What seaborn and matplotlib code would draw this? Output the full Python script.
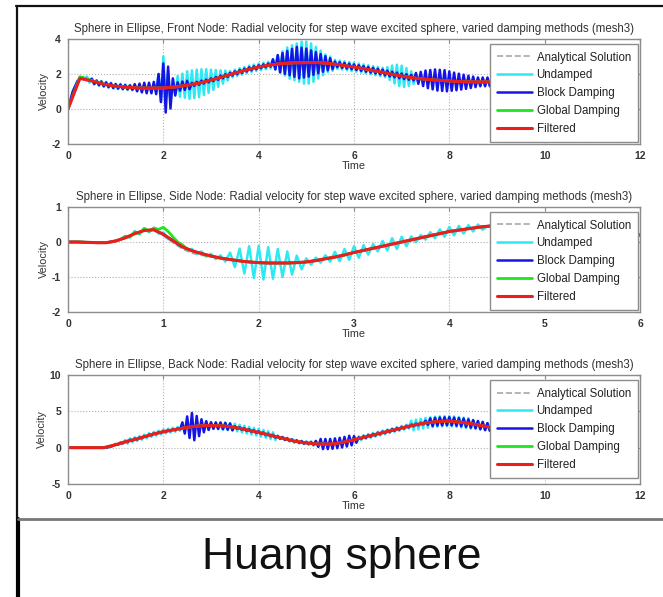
import numpy as np
import matplotlib
matplotlib.use("Agg")
import matplotlib.pyplot as plt
from matplotlib.lines import Line2D
import seaborn as sns

# ---- data ----
labels = ["Analytical Solution", "Undamped", "Block Damping", "Global Damping", "Filtered"]
colors = ["#a8a8a8", "#2ee8f2", "#1414e6", "#1ee61e", "#ee1c1c"]

titles = [
    "Sphere in Ellipse, Front Node: Radial velocity for step wave excited sphere, varied damping methods (mesh3)",
    "Sphere in Ellipse, Side Node: Radial velocity for step wave excited sphere, varied damping methods (mesh3)",
    "Sphere in Ellipse, Back Node: Radial velocity for step wave excited sphere, varied damping methods (mesh3)",
]

# front node: smooth curves every 0.25 s
front_analytical = [0.0, 1.7, 1.58, 1.42, 1.31, 1.24, 1.21, 1.2, 1.21, 1.26, 1.36, 1.49, 1.65, 1.85, 2.05, 2.24,
                    2.4, 2.52, 2.6, 2.64, 2.65, 2.64, 2.6, 2.5, 2.4, 2.28, 2.15, 2.02, 1.89, 1.78, 1.7, 1.65,
                    1.6, 1.57, 1.55, 1.55, 1.55]
front_global = [0.0, 1.85, 1.62, 1.43, 1.3, 1.24, 1.2, 1.2, 1.2, 1.26, 1.36, 1.48, 1.65, 1.85, 2.05, 2.24,
                2.4, 2.52, 2.6, 2.64, 2.65, 2.65, 2.6, 2.5, 2.4, 2.28, 2.15, 2.01, 1.88, 1.78, 1.7, 1.65,
                1.6, 1.56, 1.55, 1.55, 1.55]
front_filtered = [0.0, 1.75, 1.6, 1.42, 1.3, 1.24, 1.2, 1.2, 1.2, 1.26, 1.36, 1.48, 1.65, 1.85, 2.05, 2.24,
                  2.4, 2.52, 2.6, 2.64, 2.65, 2.65, 2.6, 2.5, 2.4, 2.28, 2.15, 2.01, 1.88, 1.78, 1.7, 1.65,
                  1.6, 1.56, 1.55, 1.55, 1.55]
# front node: oscillating curves, peaks (hi) and troughs (lo) every 0.1 s
front_undamped_hi = [0.0, 1.0, 1.6, 1.8, 1.85, 1.75, 1.65, 1.6, 1.55, 1.5,
                     1.45, 1.43, 1.4, 1.38, 1.37, 1.35, 1.4, 1.4, 1.4, 2.0,
                     3.0, 2.2, 1.65, 1.88, 2.02, 2.16, 2.2, 2.25, 2.27, 2.28,
                     2.25, 2.23, 2.21, 2.19, 2.17, 2.25, 2.33, 2.4, 2.48, 2.54,
                     2.6, 2.65, 2.7, 2.84, 3.08, 3.3, 3.52, 3.64, 3.75, 3.85,
                     3.85, 3.75, 3.55, 3.34, 3.12, 3.0, 2.81, 2.77, 2.73, 2.69,
                     2.65, 2.6, 2.55, 2.5, 2.45, 2.4, 2.35, 2.39, 2.48, 2.53,
                     2.48, 2.34, 2.15, 1.96, 1.92, 1.9, 1.88, 1.86, 1.84, 1.82,
                     1.8, 1.78, 1.77, 1.76, 1.75, 1.75, 1.75, 1.75, 1.75, 1.75, 1.75]
front_undamped_lo = [0.5, 1.3, 1.75, 1.75, 1.5, 1.4, 1.33, 1.27, 1.22, 1.17,
                     1.14, 1.11, 1.09, 1.07, 1.06, 1.05, 1.0, 1.0, 1.0, 0.4,
                     0.5, 0.4, 0.85, 0.7, 0.64, 0.58, 0.62, 0.68, 0.8, 0.92,
                     1.09, 1.27, 1.45, 1.63, 1.81, 1.89, 1.96, 2.04, 2.11, 2.17,
                     2.22, 2.27, 2.32, 2.26, 2.09, 1.91, 1.73, 1.64, 1.55, 1.45,
                     1.45, 1.55, 1.74, 1.93, 2.11, 2.18, 2.29, 2.25, 2.21, 2.17,
                     2.13, 2.08, 2.03, 1.98, 1.93, 1.88, 1.82, 1.66, 1.46, 1.31,
                     1.26, 1.32, 1.43, 1.54, 1.51, 1.49, 1.47, 1.45, 1.43, 1.41,
                     1.39, 1.37, 1.36, 1.35, 1.35, 1.35, 1.35, 1.35, 1.35, 1.35, 1.35]
front_block_hi = [0.0, 1.0, 1.6, 1.8, 1.7, 1.72, 1.62, 1.57, 1.52, 1.47,
                  1.42, 1.4, 1.37, 1.35, 1.42, 1.45, 1.5, 1.5, 1.55, 2.0,
                  2.6, 2.42, 1.75, 1.53, 1.57, 1.61, 1.5, 1.55, 1.62, 1.68,
                  1.75, 1.83, 1.91, 1.99, 2.07, 2.15, 2.23, 2.3, 2.38, 2.44,
                  2.5, 2.55, 2.6, 2.84, 3.08, 3.2, 3.32, 3.44, 3.55, 3.5,
                  3.45, 3.35, 3.25, 3.14, 3.02, 2.9, 2.71, 2.67, 2.63, 2.59,
                  2.55, 2.5, 2.45, 2.4, 2.35, 2.3, 2.25, 2.19, 2.13, 2.08,
                  2.03, 1.99, 1.95, 2.06, 2.12, 2.2, 2.23, 2.26, 2.24, 2.22,
                  2.15, 2.08, 2.02, 1.96, 1.9, 1.85, 1.8, 1.8, 1.8, 1.8, 1.8]
front_block_lo = [0.5, 1.3, 1.75, 1.75, 1.65, 1.43, 1.36, 1.3, 1.25, 1.2,
                  1.17, 1.14, 1.12, 1.1, 1.01, 0.95, 0.9, 0.9, 0.85, 0.4,
                  -0.2, 0.03, 0.77, 1.05, 1.09, 1.13, 1.32, 1.38, 1.45, 1.52,
                  1.59, 1.67, 1.75, 1.83, 1.91, 1.99, 2.06, 2.14, 2.21, 2.27,
                  2.33, 2.38, 2.42, 2.26, 2.09, 2.01, 1.93, 1.84, 1.75, 1.8,
                  1.85, 1.95, 2.04, 2.13, 2.21, 2.28, 2.39, 2.35, 2.31, 2.27,
                  2.23, 2.18, 2.13, 2.08, 2.03, 1.98, 1.92, 1.86, 1.81, 1.76,
                  1.71, 1.67, 1.63, 1.44, 1.31, 1.19, 1.12, 1.05, 1.03, 1.01,
                  1.04, 1.07, 1.11, 1.15, 1.2, 1.25, 1.3, 1.3, 1.3, 1.3, 1.3]

# side node: smooth curves every 0.1 s
side_analytical = [0.0, 0.0, -0.01, -0.02, -0.02, 0.03, 0.12, 0.24, 0.32, 0.34,
                   0.18, -0.02, -0.2, -0.32, -0.38, -0.42, -0.46, -0.5, -0.54, -0.57,
                   -0.59, -0.6, -0.6, -0.6, -0.59, -0.57, -0.53, -0.48, -0.43, -0.37,
                   -0.3, -0.24, -0.18, -0.12, -0.06, 0.0, 0.06, 0.12, 0.18, 0.24,
                   0.3, 0.34, 0.38, 0.42, 0.45, 0.47, 0.49, 0.5, 0.5, 0.5,
                   0.49, 0.47, 0.45, 0.42, 0.39, 0.36, 0.33, 0.3, 0.26, 0.23, 0.2]
side_block = [0.0, 0.0, -0.01, -0.02, -0.02, 0.03, 0.12, 0.24, 0.33, 0.35,
              0.22, 0.04, -0.14, -0.25, -0.33, -0.4, -0.46, -0.5, -0.54, -0.57,
              -0.59, -0.6, -0.6, -0.6, -0.59, -0.57, -0.53, -0.48, -0.43, -0.37,
              -0.3, -0.24, -0.18, -0.12, -0.06, 0.0, 0.06, 0.12, 0.18, 0.24,
              0.3, 0.34, 0.38, 0.42, 0.45, 0.47, 0.49, 0.5, 0.5, 0.5,
              0.49, 0.47, 0.45, 0.42, 0.39, 0.36, 0.33, 0.3, 0.26, 0.23, 0.2]
side_filtered = [0.0, 0.0, -0.01, -0.02, -0.02, 0.03, 0.12, 0.24, 0.33, 0.35,
                 0.22, 0.04, -0.14, -0.25, -0.33, -0.4, -0.46, -0.5, -0.54, -0.57,
                 -0.59, -0.6, -0.6, -0.6, -0.59, -0.57, -0.53, -0.48, -0.43, -0.37,
                 -0.3, -0.24, -0.18, -0.12, -0.06, 0.0, 0.06, 0.12, 0.18, 0.24,
                 0.3, 0.34, 0.38, 0.42, 0.45, 0.47, 0.49, 0.5, 0.5, 0.5,
                 0.49, 0.47, 0.45, 0.42, 0.39, 0.36, 0.33, 0.3, 0.26, 0.23, 0.2]
# side node: oscillating curves, hi/lo every 0.1 s
side_undamped_hi = [0.0, 0.0, -0.01, -0.02, -0.02, 0.03, 0.17, 0.31, 0.39, 0.4,
                    0.27, 0.09, -0.1, -0.2, -0.27, -0.34, -0.38, -0.3, -0.19, -0.12,
                    -0.11, -0.15, -0.2, -0.27, -0.39, -0.47, -0.45, -0.38, -0.28, -0.2,
                    -0.12, -0.09, -0.06, 0.03, 0.11, 0.15, 0.16, 0.2, 0.28, 0.36,
                    0.43, 0.46, 0.48, 0.5, 0.45, 0.47, 0.49, 0.5, 0.5, 0.5,
                    0.49, 0.47, 0.45, 0.42, 0.39, 0.36, 0.33, 0.3, 0.26, 0.23, 0.2]
side_undamped_lo = [0.0, 0.0, -0.01, -0.02, 0.0, 0.07, 0.13, 0.22, 0.28, 0.24,
                    0.08, -0.1, -0.24, -0.34, -0.42, -0.49, -0.56, -0.72, -0.9, -1.03,
                    -1.07, -1.05, -1.0, -0.93, -0.78, -0.65, -0.59, -0.56, -0.55, -0.51,
                    -0.45, -0.36, -0.27, -0.24, -0.2, -0.12, -0.01, 0.07, 0.11, 0.15,
                    0.19, 0.24, 0.3, 0.35, 0.46, 0.48, 0.5, 0.5, 0.5, 0.5,
                    0.48, 0.46, 0.44, 0.41, 0.38, 0.35, 0.32, 0.28, 0.25, 0.22, 0.2]
side_global_hi = [0.0, 0.0, -0.01, -0.02, -0.02, 0.03, 0.16, 0.29, 0.39, 0.4,
                  0.42, 0.15, -0.08, -0.25, -0.33, -0.4, -0.46, -0.5, -0.54, -0.57,
                  -0.59, -0.6, -0.6, -0.6, -0.59, -0.57, -0.53, -0.48, -0.43, -0.37,
                  -0.3, -0.24, -0.18, -0.12, -0.06, 0.0, 0.06, 0.12, 0.18, 0.24,
                  0.3, 0.34, 0.38, 0.42, 0.45, 0.47, 0.49, 0.5, 0.5, 0.5,
                  0.49, 0.47, 0.45, 0.42, 0.39, 0.36, 0.33, 0.3, 0.26, 0.23, 0.2]
side_global_lo = [0.0, 0.0, -0.01, -0.02, 0.0, 0.07, 0.14, 0.24, 0.3, 0.36,
                  0.3, 0.0, -0.2, -0.3, -0.38, -0.43, -0.48, -0.52, -0.56, -0.58,
                  -0.6, -0.6, -0.6, -0.6, -0.58, -0.55, -0.5, -0.45, -0.4, -0.33,
                  -0.27, -0.21, -0.15, -0.09, -0.03, 0.03, 0.09, 0.15, 0.21, 0.27,
                  0.32, 0.36, 0.4, 0.43, 0.46, 0.48, 0.5, 0.5, 0.5, 0.49,
                  0.48, 0.46, 0.43, 0.4, 0.37, 0.34, 0.31, 0.28, 0.24, 0.21, 0.2]

# back node: smooth curves every 0.25 s
back_analytical = [0.0, 0.0, 0.0, 0.0, 0.4, 0.9, 1.3, 1.8, 2.2, 2.5, 2.8, 3.0, 3.05, 3.0, 2.8, 2.45,
                   2.1, 1.7, 1.3, 0.9, 0.65, 0.5, 0.5, 0.7, 1.1, 1.5, 1.9, 2.3, 2.7, 3.1, 3.4, 3.6,
                   3.65, 3.5, 3.25, 2.95, 2.6]
back_global = [0.0, 0.0, 0.0, 0.0, 0.4, 0.9, 1.3, 1.8, 2.2, 2.5, 2.8, 3.0, 3.05, 3.0, 2.8, 2.45,
               2.1, 1.7, 1.3, 0.9, 0.65, 0.5, 0.5, 0.7, 1.1, 1.5, 1.9, 2.3, 2.7, 3.1, 3.4, 3.6,
               3.65, 3.5, 3.25, 2.95, 2.6]
back_filtered = [0.0, 0.0, 0.0, 0.0, 0.4, 0.9, 1.3, 1.8, 2.2, 2.5, 2.8, 3.0, 3.05, 3.0, 2.8, 2.45,
                 2.1, 1.7, 1.3, 0.9, 0.65, 0.5, 0.5, 0.7, 1.1, 1.5, 1.9, 2.3, 2.7, 3.1, 3.4, 3.6,
                 3.65, 3.5, 3.25, 2.95, 2.6]
# back node: oscillating curves, hi/lo every 0.1 s
back_undamped_hi = [0.0, 0.0, 0.0, 0.0, 0.0, 0.0, 0.0, 0.0, 0.0, 0.15,
                    0.4, 0.6, 1.05, 1.28, 1.44, 1.6, 1.8, 2.0, 2.18, 2.34,
                    2.5, 2.62, 2.74, 2.86, 3.08, 3.4, 3.48, 3.56, 3.61, 3.63,
                    3.45, 3.43, 3.51, 3.46, 3.38, 3.3, 3.16, 3.02, 2.88, 2.74,
                    2.6, 2.44, 2.28, 2.12, 1.66, 1.5, 1.34, 1.18, 1.05, 0.95,
                    0.85, 0.89, 0.83, 0.8, 0.8, 0.8, 0.88, 0.96, 1.08, 1.24,
                    1.4, 1.56, 1.72, 1.88, 2.04, 2.2, 2.36, 2.52, 2.68, 2.84,
                    3.0, 3.16, 3.72, 3.86, 3.98, 4.1, 4.18, 4.26, 4.31, 4.33,
                    4.35, 4.29, 4.23, 4.15, 4.05, 3.75, 3.63, 3.51, 3.38, 3.24, 3.1]
back_undamped_lo = [0.0, 0.0, 0.0, 0.0, 0.0, 0.0, 0.0, 0.0, 0.07, 0.28,
                    0.5, 0.68, 0.56, 0.76, 0.92, 1.1, 1.3, 1.49, 1.66, 1.82,
                    1.96, 2.08, 2.2, 2.32, 2.34, 2.24, 2.32, 2.39, 2.42, 2.44,
                    2.64, 2.62, 2.48, 2.42, 2.34, 2.23, 2.09, 1.95, 1.81, 1.67,
                    1.52, 1.36, 1.2, 1.04, 1.18, 1.02, 0.86, 0.72, 0.6, 0.5,
                    0.42, 0.26, 0.22, 0.2, 0.2, 0.24, 0.32, 0.42, 0.56, 0.72,
                    0.88, 1.04, 1.2, 1.36, 1.52, 1.68, 1.84, 2.0, 2.16, 2.32,
                    2.48, 2.64, 2.39, 2.52, 2.64, 2.74, 2.82, 2.88, 2.92, 2.94,
                    2.92, 2.86, 2.78, 2.7, 2.6, 2.69, 2.57, 2.44, 2.31, 2.17, 2.1]
back_block_hi = [0.0, 0.0, 0.0, 0.0, 0.0, 0.0, 0.0, 0.0, 0.0, 0.15,
                 0.5, 0.7, 0.85, 1.08, 1.24, 1.4, 1.6, 1.8, 1.98, 2.14,
                 2.3, 2.42, 2.54, 2.66, 3.48, 4.3, 4.78, 4.36, 3.91, 3.63,
                 3.5, 3.48, 3.46, 3.41, 3.33, 2.95, 2.81, 2.67, 2.53, 2.39,
                 2.25, 2.09, 1.93, 1.77, 1.61, 1.45, 1.29, 1.13, 1.0, 0.9,
                 0.8, 0.74, 0.93, 1.2, 1.2, 1.2, 1.28, 1.36, 1.48, 1.64,
                 1.6, 1.41, 1.57, 1.73, 1.89, 2.05, 2.21, 2.37, 2.53, 2.69,
                 2.85, 3.01, 3.17, 3.31, 3.43, 3.7, 4.03, 4.11, 4.16, 4.18,
                 4.2, 4.14, 4.08, 4.0, 3.9, 3.8, 3.68, 3.56, 3.38, 3.24, 3.1]
back_block_lo = [0.0, 0.0, 0.0, 0.0, 0.0, 0.0, 0.0, 0.0, 0.07, 0.28,
                 0.4, 0.58, 0.76, 0.96, 1.12, 1.3, 1.5, 1.69, 1.86, 2.02,
                 2.16, 2.28, 2.4, 2.52, 1.94, 1.34, 1.02, 1.59, 2.12, 2.44,
                 2.59, 2.57, 2.54, 2.47, 2.39, 2.58, 2.44, 2.3, 2.16, 2.02,
                 1.87, 1.71, 1.55, 1.39, 1.23, 1.07, 0.91, 0.76, 0.65, 0.55,
                 0.47, 0.41, 0.11, -0.2, -0.2, -0.16, -0.08, 0.02, 0.16, 0.32,
                 0.68, 1.19, 1.35, 1.51, 1.67, 1.83, 1.99, 2.15, 2.31, 2.47,
                 2.63, 2.79, 2.94, 3.07, 3.19, 3.14, 2.97, 3.03, 3.07, 3.09,
                 3.07, 3.01, 2.94, 2.85, 2.75, 2.64, 2.52, 2.4, 2.31, 2.17, 2.1]

x_limits = [(0, 12), (0, 6), (0, 12)]
y_limits = [(-2, 4), (-2, 1), (-5, 10)]
y_ticks = [[-2, 0, 2, 4], [-2, -1, 0, 1], [-5, 0, 5, 10]]


def smooth(vals, step):
    return np.arange(len(vals)) * step, np.asarray(vals)


def zigzag(hi, lo):
    # peaks at t = 0, 0.1, ...; troughs half a step later
    vals = np.column_stack([hi, lo]).ravel()
    return np.arange(len(vals)) * 0.05, vals


panels = [
    [smooth(front_analytical, 0.25), zigzag(front_undamped_hi, front_undamped_lo),
     zigzag(front_block_hi, front_block_lo), smooth(front_global, 0.25), smooth(front_filtered, 0.25)],
    [smooth(side_analytical, 0.1), zigzag(side_undamped_hi, side_undamped_lo),
     smooth(side_block, 0.1), zigzag(side_global_hi, side_global_lo), smooth(side_filtered, 0.1)],
    [smooth(back_analytical, 0.25), zigzag(back_undamped_hi, back_undamped_lo),
     zigzag(back_block_hi, back_block_lo), smooth(back_global, 0.25), smooth(back_filtered, 0.25)],
]

sns.set_style("white")
plt.rcParams["font.family"] = ["Liberation Sans", "DejaVu Sans"]
plt.rcParams["axes.unicode_minus"] = False

W, H = 663, 597
fig = plt.figure(figsize=(W / 100, H / 100), dpi=100)

# axes boxes in pixels: (left, top, right, bottom)
boxes = [(68, 39, 640, 144), (68, 207, 640, 312), (68, 375, 640, 484)]
styles = ["--", "-", "-", "-", "-"]
widths = [1.2, 1.8, 1.8, 2.0, 2.2]

for i, (l, t, r, b) in enumerate(boxes):
    ax = fig.add_axes([l / W, 1 - b / H, (r - l) / W, (b - t) / H])
    for k, (xs, ys) in enumerate(panels[i]):
        sns.lineplot(x=xs, y=ys, ax=ax, color=colors[k], lw=widths[k], linestyle=styles[k],
                     label=labels[k], estimator=None, sort=False)
    ax.set_xlim(*x_limits[i])
    ax.set_ylim(*y_limits[i])
    ax.set_yticks(y_ticks[i])
    ax.grid(True, linestyle=":", color="#b4b4b4", lw=0.8)
    for s in ax.spines.values():
        s.set_color("#8c8c8c")
        s.set_linewidth(1.0)
    ax.tick_params(direction="in", length=3, color="#8c8c8c", labelsize=7.5,
                   labelcolor="#333333", top=True, right=True, pad=5)
    for lab in ax.get_xticklabels() + ax.get_yticklabels():
        lab.set_fontweight("bold")
    ax.set_title(titles[i], fontsize=8.3, color="#333333", pad=5)
    ax.set_xlabel("Time", fontsize=7.8, color="#333333", labelpad=0)
    ax.set_ylabel("Velocity", fontsize=7.8, color="#333333", labelpad=2)
    leg = ax.legend(loc="upper right", bbox_to_anchor=(0.997, 0.952), borderaxespad=0,
                    fontsize=8.3, fancybox=False, framealpha=1, edgecolor="#8c8c8c",
                    handlelength=3.0, handletextpad=0.4, labelspacing=0.5, borderpad=0.65)
    for txt in leg.get_texts():
        txt.set_color("#222222")

# outer frame and caption
def px_line(x0, y0, x1, y1, color, lw):
    fig.add_artist(Line2D([x0 / W, x1 / W], [1 - y0 / H, 1 - y1 / H],
                          transform=fig.transFigure, color=color, lw=lw))

px_line(16, 6, 663, 6, "#111111", 1.6)
px_line(17, 6, 17, 519, "#111111", 1.6)
px_line(18, 519, 18, 597, "#000000", 3.0)
px_line(18, 519, 663, 519, "#777777", 2.0)

fig.text(342 / W, 1 - 558 / H, "Huang sphere", ha="center", va="center",
         fontsize=32, color="#111111")

fig.savefig("out.png", dpi=100)
